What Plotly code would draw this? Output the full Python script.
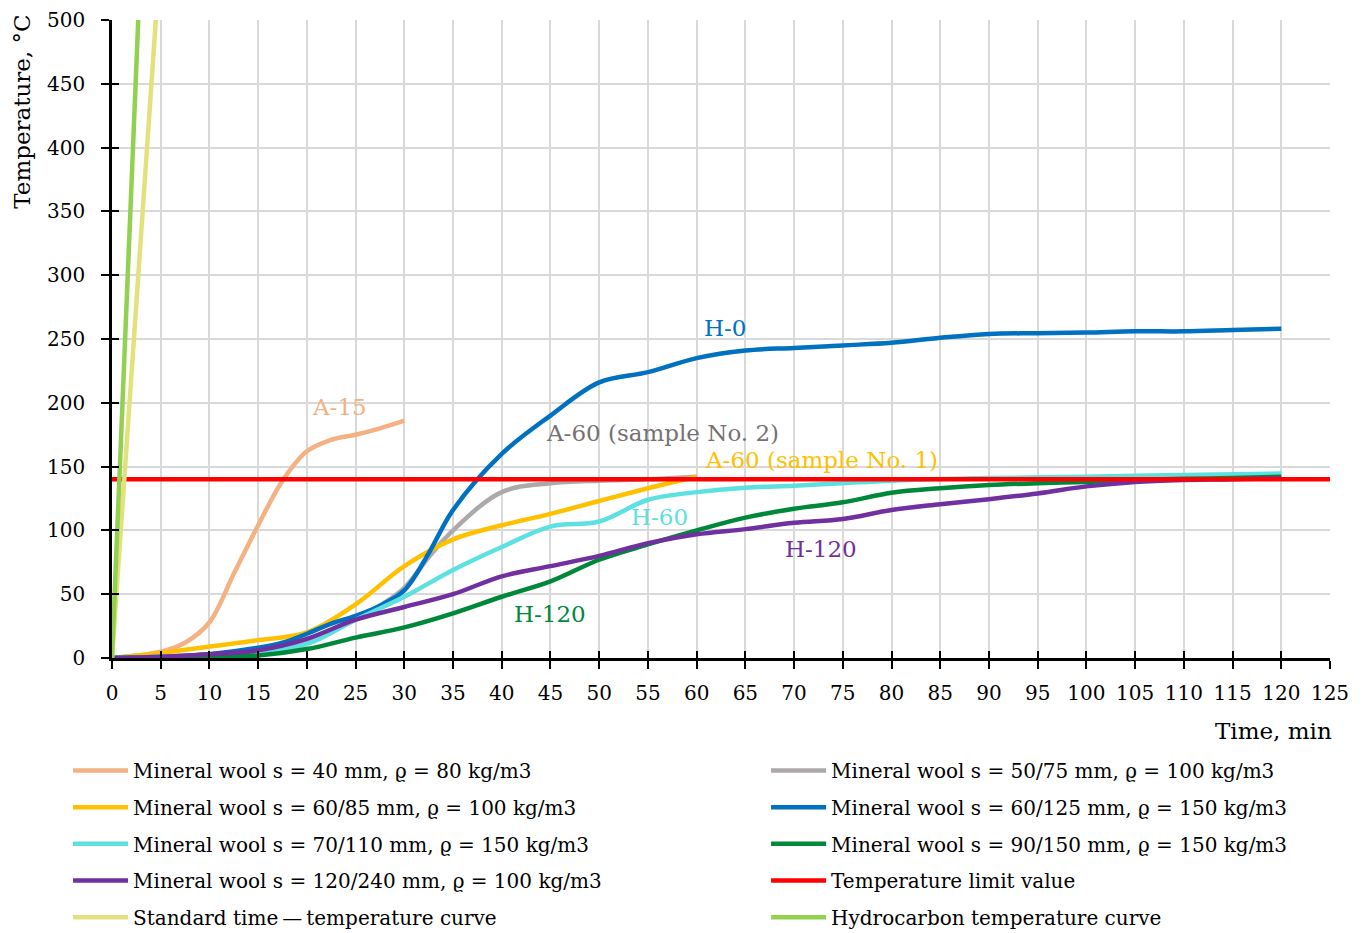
import plotly.graph_objects as go

# ---------------- data ----------------
a15_t = [0, 5, 7.5, 10, 12.5, 15, 17.5, 20, 22.5, 25, 27.5, 30]
a15_T = [0, 5, 12, 28, 66, 104, 139, 162, 171, 175, 180, 186]

a60s2_t = [0, 5, 10, 15, 20, 25, 27.5, 30, 32.5, 35, 40, 45, 50, 55, 60]
a60s2_T = [0, 1, 3, 6, 14, 30, 41, 55, 79, 100, 130, 137, 139, 140, 142]

a60s1_t = [0, 5, 10, 15, 20, 25, 30, 35, 40, 45, 50, 55, 60]
a60s1_T = [0, 4, 9, 14, 20, 42, 72, 93, 104, 113, 123, 133, 142]

h0_t = [0, 5, 10, 15, 17.5, 20, 22.5, 25, 27.5, 30, 32.5, 35, 40, 45, 50, 55, 60,
        65, 70, 75, 80, 85, 90, 95, 100, 105, 110, 115, 120]
h0_T = [0, 1, 3, 8, 12, 19, 27, 33, 41, 53, 82, 116, 160, 190, 216, 224, 235,
        241, 243, 245, 247, 251, 254, 254.5, 255, 256, 256, 257, 258]

h60_t = [0, 5, 10, 15, 20, 25, 30, 35, 40, 45, 50, 55, 60, 65, 70, 75,
         80, 90, 100, 110, 120]
h60_T = [0, 1, 2, 4, 11, 30, 48, 69, 87, 103, 107, 124, 130, 133.5, 135, 137,
         139, 141, 142, 143.5, 144.5]

h120g_t = [0, 5, 10, 15, 20, 25, 30, 35, 40, 45, 50, 55, 60, 65, 70, 75,
           80, 85, 90, 95, 100, 105, 110, 115, 120]
h120g_T = [0, 0.5, 1, 2, 7, 16, 24, 35, 48, 60, 77, 89, 100, 110, 117, 122,
           129.5, 133, 135.5, 137, 138, 139.5, 140.5, 141, 142]

h120p_t = [0, 5, 10, 15, 20, 25, 30, 35, 40, 45, 50, 55, 60, 65, 70, 75,
           80, 85, 90, 95, 100, 105, 110, 115, 120]
h120p_T = [0, 1, 3, 6, 15, 30, 40, 50, 64, 72, 80, 90, 97, 101, 106, 109,
           116, 120.5, 124.5, 129, 134.5, 138, 139.5, 140, 141]

limit_t = [0, 125]
limit_T = [140, 140]

standard_t = [0, 5]
standard_T = [0, 556]

hydro_t = [0, 5]
hydro_T = [0, 928]

x_ticks = list(range(0, 126, 5))
y_ticks = list(range(0, 501, 50))

series_names = [
    "Mineral wool s = 40 mm, ϱ = 80 kg/m3",
    "Mineral wool s = 50/75 mm, ϱ = 100 kg/m3",
    "Mineral wool s = 60/85 mm, ϱ = 100 kg/m3",
    "Mineral wool s = 60/125 mm, ϱ = 150 kg/m3",
    "Mineral wool s = 70/110 mm, ϱ = 150 kg/m3",
    "Mineral wool s = 90/150 mm, ϱ = 150 kg/m3",
    "Mineral wool s = 120/240 mm, ϱ = 100 kg/m3",
    "Temperature limit value",
    "Standard time\u2009\u2014\u2009temperature curve",
    "Hydrocarbon temperature curve",
]
# column of the legend each series sits in (left = legend, right = legend2)
legend_column = ["legend", "legend2", "legend", "legend2", "legend",
                 "legend2", "legend", "legend2", "legend", "legend2"]

label_texts = ["A-15", "H-0", "A-60 (sample No. 2)", "A-60 (sample No. 1)",
               "H-60", "H-120", "H-120"]
label_t = [23.3, 62.9, 56.5, 72.8, 56.2, 72.8, 45.0]
label_T = [197, 258.5, 176, 155, 110.5, 85.3, 34.3]
label_colors = ["#F4B183", "#0070C0", "#767171", "#FFC000",
                "#5CE0E0", "#7030A0", "#00883A"]

# ---------------- figure ----------------
FONT = "DejaVu Serif"
colors = ["#F4B183", "#ADA9A9", "#FFC000", "#0070C0", "#5CE0E0",
          "#00883A", "#7030A0", "#FF0000", "#E2E27D", "#92D050"]
xs = [a15_t, a60s2_t, a60s1_t, h0_t, h60_t, h120g_t, h120p_t, limit_t, standard_t, hydro_t]
ys = [a15_T, a60s2_T, a60s1_T, h0_T, h60_T, h120g_T, h120p_T, limit_T, standard_T, hydro_T]
shapes = ["spline"] * 7 + ["linear", "linear", "linear"]

fig = go.Figure()
for i, (name, c, x, y, sh, lg) in enumerate(zip(series_names, colors, xs, ys, shapes, legend_column)):
    line = dict(color=c, width=4.5, shape=sh)
    if sh == "spline":
        line["smoothing"] = 1.0
    fig.add_trace(go.Scatter(
        x=x, y=y, name=name, mode="lines", line=line,
        legend=lg, legendgroup="g%d" % i,
    ))

# overlay axes for crossing ticks
fig.add_trace(go.Scatter(x=[None], y=[None], xaxis="x2", yaxis="y2",
                         showlegend=False, hoverinfo="skip"))

for txt, tx, ty, col in zip(label_texts, label_t, label_T, label_colors):
    fig.add_annotation(x=tx, y=ty, text=txt, showarrow=False,
                       font=dict(family=FONT, size=23, color=col),
                       xanchor="center", yanchor="middle")

fig.add_annotation(xref="paper", yref="paper", x=-0.074, y=0.856,
                   text="Temperature, °C", textangle=-90, showarrow=False,
                   font=dict(family=FONT, size=23, color="black"),
                   xanchor="center", yanchor="middle")
fig.add_annotation(xref="paper", yref="paper", x=1.003, y=-0.114,
                   text="Time, min", showarrow=False,
                   font=dict(family=FONT, size=23, color="black"),
                   xanchor="right", yanchor="middle")

axis_common = dict(showline=True, linecolor="black", linewidth=2.5,
                   ticks="outside", ticklen=8, tickwidth=2, tickcolor="black",
                   showgrid=True, gridcolor="#D9D9D9", gridwidth=2,
                   zeroline=False, tickfont=dict(family=FONT, size=20, color="black"))

legend_common = dict(orientation="v", yanchor="top", xanchor="left",
                     font=dict(family=FONT, size=20, color="black"),
                     itemwidth=55, tracegroupgap=7.7, bgcolor="rgba(0,0,0,0)",
                     borderwidth=0)

fig.update_layout(
    width=1365, height=933, autosize=False,
    margin=dict(l=112, r=35, t=20, b=275, autoexpand=False),
    paper_bgcolor="white", plot_bgcolor="white",
    font=dict(family=FONT, size=20, color="black"),
    xaxis=dict(range=[0, 125], tickvals=x_ticks, ticklabelstandoff=7, **axis_common),
    yaxis=dict(range=[0, 500], tickvals=y_ticks, ticklabelstandoff=12, **axis_common),
    xaxis2=dict(overlaying="x", matches="x", range=[0, 125], tickvals=x_ticks,
                ticks="inside", ticklen=7, tickwidth=2, tickcolor="black",
                showticklabels=False, showgrid=False, zeroline=False, showline=False),
    yaxis2=dict(overlaying="y", matches="y", range=[0, 500], tickvals=y_ticks,
                ticks="inside", ticklen=7, tickwidth=2, tickcolor="black",
                showticklabels=False, showgrid=False, zeroline=False, showline=False),
    showlegend=True,
    legend=dict(x=-0.0361, y=-0.1457, **legend_common),
    legend2=dict(x=0.537, y=-0.1457, **legend_common),
)

fig.write_html("out.html")
